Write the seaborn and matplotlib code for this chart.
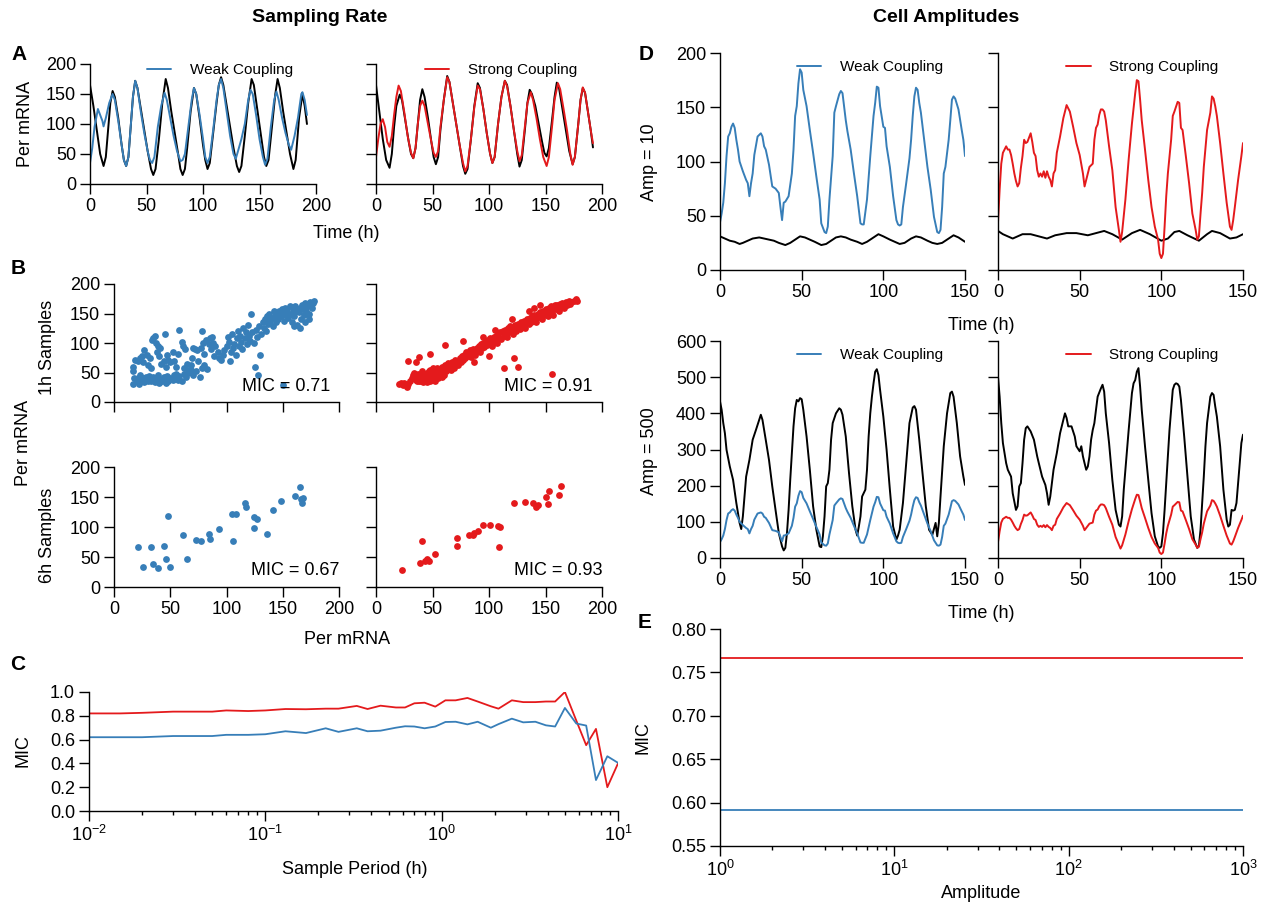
import numpy as np
import pandas as pd
import matplotlib
matplotlib.use("Agg")
import matplotlib.pyplot as plt
import seaborn as sns
from matplotlib.ticker import LogLocator, FixedLocator, NullFormatter, FormatStrFormatter

sns.set_theme(style="ticks")
plt.rcParams['font.family'] = ['Liberation Sans', 'DejaVu Sans']
plt.rcParams['mathtext.fontset'] = 'custom'
plt.rcParams['mathtext.rm'] = 'Liberation Sans'
plt.rcParams['mathtext.it'] = 'Liberation Sans:italic'
plt.rcParams['axes.unicode_minus'] = False
for k in ('text.color', 'axes.labelcolor', 'xtick.color', 'ytick.color', 'axes.edgecolor'):
    plt.rcParams[k] = 'black'

BLUE = "#377eb8"
RED = "#e41a1c"

# ---------------- Panel A data (time h, Per mRNA) ----------------
A_weak_black_t = [0,3,6,9,12,14,16,18,20,22,25,28,30,32,34,36,38,40,42,45,48,51,54,56,58,61,64,67,69,72,75,78,80,82,84,86,89,92,94,97,100,102,104,106,109,112,114,116,118,121,124,127,130,132,134,137,140,143,145,148,151,154,156,158,161,164,166,168,171,174,177,180,182,185,188,190,192]
A_weak_black_v = [165,130,90,50,30,45,90,135,155,145,110,65,40,30,45,95,145,172,160,125,90,55,25,15,25,75,135,175,160,120,85,50,25,15,25,60,120,160,150,110,65,40,25,35,85,135,165,178,165,130,95,60,30,20,30,80,135,175,165,125,85,45,30,40,95,150,175,160,120,85,50,25,40,110,150,130,100]
A_weak_col_t = [0,2,4,7,9,11,12,14,17,20,22,25,28,30,32,34,36,38,40,42,45,48,51,53,55,57,60,63,66,68,71,74,77,80,82,84,87,90,92,94,97,100,102,104,106,109,112,114,116,118,121,124,127,129,131,134,137,140,142,144,147,150,153,155,157,160,163,165,167,170,173,176,178,181,184,187,188,190,192]
A_weak_col_v = [35,60,95,125,115,105,96,110,135,150,140,105,65,40,30,45,95,145,172,160,120,85,55,40,35,45,95,130,152,140,110,80,55,38,40,50,95,140,160,150,115,75,45,35,45,90,140,165,175,160,120,80,50,42,55,75,100,140,157,150,115,75,45,32,42,95,140,154,140,110,85,65,57,80,110,150,153,140,115]
A_strong_black_t = [0,3,6,9,12,14,16,18,21,23,26,29,31,33,35,37,39,41,43,46,49,51,53,55,57,60,63,65,68,71,74,77,79,81,84,87,90,92,95,98,101,103,105,108,111,114,116,119,122,125,127,129,132,134,136,138,141,144,147,149,151,153,156,158,160,162,165,168,171,174,176,179,181,183,185,188,190,192]
A_strong_black_v = [165,120,75,40,27,50,95,130,149,140,105,70,50,43,60,100,140,158,145,110,70,45,33,45,90,140,180,170,135,100,65,30,17,25,75,130,168,160,125,85,50,35,45,100,145,172,165,130,90,50,29,40,95,135,157,150,130,100,70,52,46,60,110,145,169,160,125,90,55,33,45,100,140,160,152,115,90,61]
A_strong_col_t = [0,2,4,6,8,10,12,14,16,18,20,22,25,28,31,33,35,37,39,41,43,46,49,51,53,55,57,60,63,65,68,71,74,77,79,81,84,87,90,92,95,98,101,103,105,108,111,114,116,119,122,125,127,129,132,134,137,139,142,145,148,151,153,156,158,161,163,166,169,172,174,176,179,181,183,185,188,190,192]
A_strong_col_v = [45,75,100,108,95,70,62,80,115,145,164,155,120,80,52,43,60,100,130,139,130,100,70,52,45,55,95,140,178,170,135,100,65,35,21,30,75,128,164,158,125,85,50,35,45,100,145,172,163,130,90,55,38,48,100,135,153,140,110,75,45,30,45,100,140,168,158,125,90,50,32,45,100,140,161,152,115,90,68]

# ---------------- Panel B data (scatter) ----------------
B1_weak_x = [17,18,17,17,20,21,22,23,24,25,26,27,28,29,30,31,32,33,34,35,36,37,38,39,40,41,43,44,45,46,47,48,50,52,53,54,55,57,58,60,62,64,66,68,70,73,76,78,80,83,
             19,21,23,25,26,27,29,30,32,33,34,35,36,37,38,39,40,41,42,44,45,46,47,48,50,52,53,55,57,58,60,61,62,63,65,66,68,69,70,72,74,75,77,78,79,80,
             82,84,85,86,87,88,89,90,92,93,95,97,98,100,101,102,103,104,105,106,107,108,109,110,111,112,113,114,115,116,117,118,119,120,121,122,123,124,125,126,127,128,129,130,131,132,133,
             134,135,136,137,138,139,140,141,142,143,144,145,146,147,148,149,150,150,151,152,153,154,155,156,157,158,159,160,161,162,163,164,165,166,167,168,169,170,171,172,173,174,175,176,177,178,173,170,160,165]
B1_weak_y = [30,41,52,60,35,41,30,45,38,36,40,34,42,38,35,44,40,36,38,42,34,40,37,45,33,39,36,42,38,33,44,36,40,37,45,42,48,38,44,36,47,42,50,55,46,52,42,58,62,56,
             72,70,75,78,68,88,80,62,74,58,105,108,112,100,85,95,78,92,65,70,115,60,80,72,68,85,70,60,82,122,102,95,58,90,65,55,62,75,92,90,88,70,92,120,100,82,
             105,98,108,90,110,100,78,95,85,75,72,80,88,95,110,102,70,85,115,92,98,80,108,120,95,112,102,90,125,108,118,98,130,112,104,150,118,100,60,122,110,45,128,80,115,135,125,
             140,120,145,132,150,138,142,128,155,146,135,150,140,155,145,158,28,150,138,160,148,155,142,162,150,135,158,145,162,155,130,152,160,140,165,158,148,168,155,162,150,170,165,160,168,172,140,135,128,125]
B1_strong_x = [20,22,24,25,27,28,30,32,33,34,35,36,37,38,39,40,41,42,43,44,45,46,47,48,49,50,51,52,53,54,55,56,57,58,59,60,61,62,63,64,65,66,67,68,69,70,71,72,73,74,75,76,77,78,79,80,
               81,82,83,84,85,86,87,88,89,90,91,92,93,94,95,96,97,98,99,100,101,102,103,104,105,106,107,108,109,110,111,112,113,114,115,116,117,118,119,120,121,122,123,124,125,126,127,128,129,130,
               131,132,133,134,135,136,137,138,139,140,141,142,143,144,145,146,147,148,149,150,151,152,153,154,155,156,157,158,159,160,161,162,163,164,165,166,167,168,169,170,171,172,173,175,177,178,
               40,42,44,45,46,48,50,52,55,58,60,38,36,47,50,
               28,35,38,48,61,77,87,100,113,122,126,156,140,145,135,120,105,95]
B1_strong_y = [30,32,28,33,26,30,35,40,45,50,38,42,48,36,40,44,52,38,46,42,50,36,44,55,40,48,42,52,46,58,50,44,54,60,48,56,62,52,58,66,60,55,68,62,58,72,65,70,62,75,68,78,72,80,74,85,
               78,82,88,76,84,90,86,80,92,88,95,85,98,92,100,94,102,96,105,99,108,102,95,110,104,112,100,115,108,118,106,120,112,122,116,110,125,118,128,122,115,126,130,120,128,132,124,135,128,132,
               138,126,134,140,132,142,136,145,138,148,140,135,150,144,152,146,140,155,148,158,150,145,160,152,162,155,148,164,158,165,160,155,166,162,168,160,165,170,164,168,172,166,170,172,174,172,
               36,34,38,34,40,35,38,36,40,42,45,44,35,52,58,
               70,68,77,82,96,104,68,78,57,75,59,47,160,165,155,140,122,110]
B6_weak_x = [21,26,33,35,39,44,46,48,50,61,65,73,77,84,85,93,105,106,108,116,117,124,124,127,136,141,148,161,165,166,167,168]
B6_weak_y = [67,33,67,39,31,69,47,118,34,86,47,78,77,89,80,97,122,77,122,140,133,116,98,114,88,129,143,151,166,147,140,148]
B6_strong_x = [23,39,41,43,45,47,52,72,72,82,86,87,90,95,101,108,110,109,122,132,139,142,143,150,153,152,162,164]
B6_strong_y = [28,40,76,43,47,44,55,69,82,86,86,90,94,104,103,101,100,67,140,142,140,133,137,150,160,138,154,169]
MIC_B = ["MIC = 0.71", "MIC = 0.91", "MIC = 0.67", "MIC = 0.93"]

# ---------------- Panel C data ----------------
C_period = [0.01,0.015,0.02,0.03,0.05,0.06,0.08,0.1,0.13,0.17,0.22,0.26,0.33,0.38,0.45,0.55,0.62,0.7,0.8,0.92,1.05,1.2,1.4,1.6,1.9,2.1,2.5,2.9,3.4,3.9,4.4,5.0,5.8,6.6,7.5,8.7,10.0]
C_weak = [0.62,0.62,0.62,0.63,0.63,0.64,0.64,0.645,0.67,0.655,0.695,0.665,0.695,0.67,0.675,0.70,0.712,0.71,0.695,0.71,0.748,0.75,0.728,0.75,0.70,0.73,0.776,0.745,0.75,0.72,0.71,0.866,0.735,0.718,0.26,0.46,0.405]
C_strong = [0.82,0.82,0.825,0.835,0.835,0.845,0.84,0.845,0.857,0.855,0.86,0.86,0.883,0.857,0.885,0.87,0.87,0.905,0.91,0.877,0.93,0.93,0.95,0.92,0.88,0.86,0.93,0.915,0.915,0.92,0.92,1.0,0.76,0.553,0.69,0.2,0.4]

# ---------------- Panel D data (time h) ----------------
D_col_weak_t = [0,1,2,3,4,5,6,7,8,9,10,11,12,14,16,17,18,19,20,21,23,25,26,27,28,30,32,34,36,37,38,39,40,42,44,45,46,47,48,49,50,51,53,55,57,59,61,62,64,65,66,67,69,70,71,73,74,75,77,78,80,82,84,86,87,88,90,92,94,95,96,97,98,100,101,102,104,106,108,109,110,111,112,114,116,117,118,119,120,121,122,123,125,127,129,131,133,134,135,136,137,138,140,141,142,143,144,146,148,149,150]
D_col_weak_v = [44,52,62,80,105,123,126,132,135,131,120,111,100,91,83,80,68,80,89,106,123,126,123,114,111,97,77,75,71,58,46,62,63,68,89,111,142,151,172,185,182,166,151,129,108,86,65,43,35,34,40,65,105,145,151,162,165,163,138,128,111,89,68,43,42,42,65,105,142,154,169,168,151,132,131,114,95,68,46,42,41,42,58,80,103,120,142,160,168,166,154,145,120,95,74,49,35,34,37,58,89,95,120,138,157,160,158,148,129,120,105]
D_col_strong_t = [0,1,2,3,4,5,6,7,8,9,10,11,12,13,14,15,16,17,18,19,20,21,22,23,24,25,26,27,28,29,30,31,32,33,34,35,36,38,40,42,44,46,48,50,52,53,54,56,58,59,60,61,62,63,64,65,66,68,70,72,74,75,76,78,80,82,84,85,86,87,88,90,92,94,96,98,99,100,101,102,103,104,106,107,108,110,111,112,113,115,117,119,121,122,123,124,125,126,128,130,131,132,133,134,136,138,140,142,143,144,145,147,149,150]
D_col_strong_v = [44,74,98,108,111,114,111,111,106,98,89,82,77,80,94,105,120,117,118,122,126,118,108,105,92,86,89,86,91,85,91,86,83,77,89,92,108,123,140,152,146,132,117,106,89,77,83,95,98,120,131,134,143,148,148,146,138,114,92,58,37,26,35,65,102,135,163,175,174,157,138,111,83,58,40,28,15,11,15,40,68,89,120,142,146,155,154,131,129,105,80,52,37,28,31,52,71,95,129,145,160,158,151,142,117,89,62,40,37,46,58,83,105,117]
D10_black_weak_t = [0,3,6,9,12,14,17,20,24,27,30,33,36,40,43,46,49,52,55,58,62,65,68,71,74,77,80,84,87,90,93,97,100,104,107,110,113,117,120,123,127,130,133,136,140,143,146,150]
D10_black_weak_v = [31,29,27,26,24,25,27,29,30,29,28,27,25,23,25,28,31,30,28,26,23,24,27,30,31,30,28,26,24,26,29,33,31,28,26,24,25,29,31,30,27,25,24,25,29,32,30,26]
D10_black_strong_t = [0,3,6,9,12,15,20,25,30,35,42,48,55,60,65,70,76,82,87,93,100,104,108,111,116,123,128,131,136,142,146,150]
D10_black_strong_v = [36,33,31,29,31,33,33,31,29,32,34,34,32,34,36,33,28,34,37,33,27,29,35,36,32,27,33,36,34,29,30,33]
D500_black_weak_t = [0,1,2,3,4,6,8,10,12,13,14,16,18,20,22,24,25,26,28,30,32,34,36,38,39,40,41,42,43,44,45,46,47,48,49,50,51,53,55,57,59,61,62,63,64,65,66,67,68,69,71,73,74,75,77,79,81,83,84,85,86,87,89,90,91,92,93,94,95,96,97,98,100,102,104,106,108,109,110,112,114,116,118,119,120,122,124,126,128,130,132,133,134,135,137,139,141,142,143,145,147,149,150]
D500_black_weak_v = [433,410,373,345,299,253,216,152,97,80,115,225,271,327,354,382,396,382,327,271,198,133,69,32,21,28,69,133,216,290,364,414,437,433,442,439,410,336,244,143,78,32,30,60,115,198,207,244,327,373,400,414,410,396,336,234,143,78,62,87,115,170,189,244,336,400,446,483,515,522,506,465,391,299,189,87,51,62,78,152,262,373,416,420,410,327,234,143,78,64,97,60,97,170,309,400,456,460,446,373,281,225,202]
D500_black_strong_t = [0,1,2,3,4,5,6,8,9,11,12,13,14,15,16,17,18,20,22,24,25,27,29,30,31,32,34,36,38,40,41,42,43,45,47,48,50,51,52,53,54,55,56,57,58,59,60,61,63,64,65,66,68,70,72,74,75,76,77,78,80,82,83,84,85,86,87,88,90,92,94,96,98,99,100,101,102,103,104,105,106,107,108,109,110,111,112,114,116,118,120,122,123,124,125,126,127,128,130,131,132,133,134,136,138,140,141,142,143,144,145,146,147,148,149,150]
D500_black_strong_v = [501,446,373,318,290,262,244,225,179,133,143,198,207,262,327,359,364,350,327,281,262,225,202,179,147,170,244,290,345,382,400,387,364,364,336,309,295,309,281,262,244,253,281,327,354,373,410,446,469,479,460,400,318,216,133,92,87,115,189,244,354,456,483,492,515,525,474,410,309,216,124,60,32,28,32,69,133,207,281,354,410,465,479,483,481,474,437,336,225,115,51,28,34,78,152,225,309,373,446,456,451,419,391,309,189,106,87,92,133,131,133,152,207,262,318,341]

# ---------------- Panel E data ----------------
E_amp = [1, 2, 5, 10, 20, 50, 100, 200, 500, 1000]
E_weak = [0.591] * len(E_amp)
E_strong = [0.767] * len(E_amp)

W, H = 1269, 909
fig = plt.figure(figsize=(W / 100, H / 100), dpi=100)
TICK = 13
LAB = 13


def add_ax(x0, x1, ytop, ybot):
    return fig.add_axes([x0 / W, 1 - ybot / H, (x1 - x0) / W, (ybot - ytop) / H])


def style(ax, xlim, ylim, xticks=None, yticks=None, xlab=True, ylab=True):
    ax.set_xlim(*xlim)
    ax.set_ylim(*ylim)
    if xticks is not None:
        ax.set_xticks(xticks)
    if yticks is not None:
        ax.set_yticks(yticks)
    sns.despine(ax=ax)
    for s in ("left", "bottom"):
        ax.spines[s].set_linewidth(1.0)
        ax.spines[s].set_color("black")
    ax.tick_params(which="major", direction="out", length=7, width=1, labelsize=TICK, pad=3, colors="black")
    ax.tick_params(which="minor", direction="out", length=3, width=1, colors="black")
    if not xlab:
        ax.tick_params(labelbottom=False)
    if not ylab:
        ax.tick_params(labelleft=False)
    ax.set_xlabel("")
    ax.set_ylabel("")
    ax.patch.set_alpha(0)


def line(ax, t, v, color, label=None, lw=1.4):
    sns.lineplot(x=t, y=v, ax=ax, color=color, lw=lw, label=label, estimator=None, sort=False, legend=False)


def leg(ax, fx, fy, label, color):
    h = [plt.Line2D([], [], color=color, lw=1.4)]
    ax.legend(h, [label], loc="center left", bbox_to_anchor=(fx, fy), frameon=False, fontsize=11,
              handlelength=1.6, handletextpad=1.2, borderpad=0, borderaxespad=0)


# ---- A ----
axA1 = add_ax(90, 316, 64, 184)
line(axA1, A_weak_black_t, A_weak_black_v, "black")
line(axA1, A_weak_col_t, A_weak_col_v, BLUE)
style(axA1, (0, 200), (0, 200), [0, 50, 100, 150, 200], [0, 50, 100, 150, 200])
leg(axA1, 0.252, 0.95, "Weak Coupling", BLUE)

axA2 = add_ax(376, 602, 64, 184)
line(axA2, A_strong_black_t, A_strong_black_v, "black")
line(axA2, A_strong_col_t, A_strong_col_v, RED)
style(axA2, (0, 200), (0, 200), [0, 50, 100, 150, 200], [0, 50, 100, 150, 200], ylab=False)
leg(axA2, 0.217, 0.95, "Strong Coupling", RED)

# ---- B ----
b_specs = [
    (114, 339, 284, 402, B1_weak_x, B1_weak_y, BLUE, False, True, MIC_B[0], 0.96, 0.135),
    (376, 602, 284, 402, B1_strong_x, B1_strong_y, RED, False, False, MIC_B[1], 0.96, 0.135),
    (114, 339, 467, 587, B6_weak_x, B6_weak_y, BLUE, True, True, MIC_B[2], 1.0, 0.14),
    (376, 602, 467, 587, B6_strong_x, B6_strong_y, RED, True, False, MIC_B[3], 1.0, 0.14),
]
for x0, x1, yt, yb, xs, ys, c, xl, yl, mic, tx, ty in b_specs:
    ax = add_ax(x0, x1, yt, yb)
    sns.scatterplot(x=xs, y=ys, ax=ax, color=c, s=24, linewidth=0, legend=False, zorder=3)
    style(ax, (0, 200), (0, 200), [0, 50, 100, 150, 200], [0, 50, 100, 150, 200], xlab=xl, ylab=yl)
    ax.text(tx, ty, mic, transform=ax.transAxes, ha="right", va="center", fontsize=LAB, zorder=5)

# ---- C ----
axC = add_ax(89, 618, 692, 811)
line(axC, C_period, C_strong, RED, lw=1.3)
line(axC, C_period, C_weak, BLUE, lw=1.3)
axC.set_xscale("log")
style(axC, (0.01, 10), (0, 1.0), None, [0, 0.2, 0.4, 0.6, 0.8, 1.0])
axC.xaxis.set_major_locator(FixedLocator([0.01, 0.1, 1, 10]))
axC.xaxis.set_minor_locator(LogLocator(base=10, subs=np.arange(2, 10)))
axC.xaxis.set_minor_formatter(NullFormatter())
axC.yaxis.set_major_formatter(FormatStrFormatter("%.1f"))

# ---- D ----
d_specs = [
    (720, 965, 53, 270, (0, 200), [0, 50, 100, 150, 200], D10_black_weak_t, D10_black_weak_v, D_col_weak_t, D_col_weak_v, BLUE, True, "Weak Coupling", 0.314),
    (998, 1243, 53, 270, (0, 200), [0, 50, 100, 150, 200], D10_black_strong_t, D10_black_strong_v, D_col_strong_t, D_col_strong_v, RED, False, "Strong Coupling", 0.278),
    (720, 965, 341, 558, (0, 600), [0, 100, 200, 300, 400, 500, 600], D500_black_weak_t, D500_black_weak_v, D_col_weak_t, D_col_weak_v, BLUE, True, "Weak Coupling", 0.314),
    (998, 1243, 341, 558, (0, 600), [0, 100, 200, 300, 400, 500, 600], D500_black_strong_t, D500_black_strong_v, D_col_strong_t, D_col_strong_v, RED, False, "Strong Coupling", 0.278),
]
for x0, x1, yt, yb, yl, yt_list, bt, bv, ct, cv, c, ylab, lab, lx in d_specs:
    ax = add_ax(x0, x1, yt, yb)
    line(ax, bt, bv, "black")
    line(ax, ct, cv, c)
    style(ax, (0, 150), yl, [0, 50, 100, 150], yt_list, ylab=ylab)
    leg(ax, lx, 0.935, lab, c)

# ---- E ----
axE = add_ax(720, 1243, 629, 846)
line(axE, E_amp, E_strong, RED, lw=1.3)
line(axE, E_amp, E_weak, BLUE, lw=1.3)
axE.set_xscale("log")
style(axE, (1, 1000), (0.55, 0.80), None, [0.55, 0.60, 0.65, 0.70, 0.75, 0.80])
axE.xaxis.set_major_locator(FixedLocator([1, 10, 100, 1000]))
axE.xaxis.set_minor_locator(LogLocator(base=10, subs=np.arange(2, 10)))
axE.xaxis.set_minor_formatter(NullFormatter())
axE.yaxis.set_major_formatter(FormatStrFormatter("%.2f"))


# ---- figure texts ----
def ftext(x, y, s, rot=0, size=LAB, weight="normal"):
    fig.text(x / W, 1 - y / H, s, ha="center", va="center", rotation=rot, fontsize=size, fontweight=weight)


ftext(320, 18, "Sampling Rate", size=14, weight="bold")
ftext(946, 18, "Cell Amplitudes", size=14, weight="bold")
for s, x, y in [("A", 19, 55), ("B", 18, 268), ("C", 18, 664), ("D", 646, 55), ("E", 645, 623)]:
    ftext(x, y, s, size=15, weight="bold")

ftext(26, 124, "Per mRNA", rot=90)
ftext(346, 233, "Time (h)")
ftext(24, 443, "Per mRNA", rot=90)
ftext(47, 347, "1h Samples", rot=90)
ftext(47, 535, "6h Samples", rot=90)
ftext(347, 640, "Per mRNA")
ftext(23, 751, "MIC", rot=90)
ftext(355, 870, "Sample Period (h)")
ftext(650, 162, "Amp = 10", rot=90)
ftext(981, 326, "Time (h)")
ftext(650, 451, "Amp = 500", rot=90)
ftext(981, 613, "Time (h)")
ftext(643, 738, "MIC", rot=90)
ftext(981, 893, "Amplitude")

fig.savefig("out.png", dpi=100)
